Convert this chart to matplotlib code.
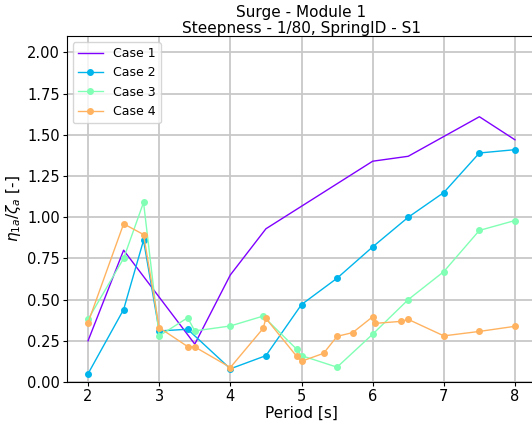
import numpy as np
import matplotlib
matplotlib.use("Agg")
import matplotlib.pyplot as plt

# Case 1: period and response (line only)
case1_period = [2.0, 2.5, 3.5, 4.0, 4.5, 6.0, 6.5, 7.5, 8.0]
case1_rao = [0.25, 0.80, 0.23, 0.65, 0.93, 1.34, 1.37, 1.61, 1.47]

# Case 2
case2_period = [2.0, 2.5, 2.78, 3.0, 3.4, 4.0, 4.5, 5.0, 5.5, 6.0, 6.5, 7.0, 7.5, 8.0]
case2_rao = [0.05, 0.44, 0.86, 0.31, 0.32, 0.08, 0.16, 0.47, 0.63, 0.82, 1.00, 1.15, 1.39, 1.41]

# Case 3
case3_period = [2.0, 2.5, 2.78, 3.0, 3.4, 3.5, 4.0, 4.46, 4.93, 5.0, 5.5, 6.0, 6.5, 7.0, 7.5, 8.0]
case3_rao = [0.38, 0.75, 1.09, 0.28, 0.39, 0.31, 0.34, 0.40, 0.20, 0.16, 0.09, 0.29, 0.50, 0.67, 0.92, 0.98]

# Case 4
case4_period = [2.0, 2.5, 2.78, 3.0, 3.4, 3.5, 4.0, 4.46, 4.5, 4.93, 5.0, 5.31, 5.5, 5.72,
                6.0, 6.04, 6.4, 6.5, 7.0, 7.5, 8.0]
case4_rao = [0.36, 0.96, 0.895, 0.33, 0.215, 0.213, 0.088, 0.325, 0.386, 0.157, 0.126, 0.174,
             0.277, 0.30, 0.396, 0.356, 0.368, 0.38, 0.28, 0.307, 0.338]

labels = ["Case 1", "Case 2", "Case 3", "Case 4"]
x_ticks = [2, 3, 4, 5, 6, 7, 8]
y_ticks = [0.0, 0.25, 0.5, 0.75, 1.0, 1.25, 1.5, 1.75, 2.0]

colors = plt.cm.rainbow(np.linspace(0, 1, 5))

fig = plt.figure(figsize=(5.32, 4.30), dpi=100)
ax = fig.add_axes([66.7 / 532, 48 / 430, (536.3 - 66.7) / 532, (382 - 36) / 430])

ax.plot(case1_period, case1_rao, color=colors[0], lw=1.0, label=labels[0])
ax.plot(case2_period, case2_rao, color=colors[1], lw=1.0, marker="o", ms=4, label=labels[1])
ax.plot(case3_period, case3_rao, color=colors[2], lw=1.0, marker="o", ms=4, label=labels[2])
ax.plot(case4_period, case4_rao, color=colors[3], lw=1.0, marker="o", ms=4, label=labels[3])

ax.set_xlim(1.7, 8.3)
ax.set_ylim(0, 2.1)
ax.set_xticks(x_ticks)
ax.set_yticks(y_ticks)
ax.tick_params(labelsize=10.5, length=3, pad=2)
ax.grid(True, color="#c8c8c8", lw=1.3)
ax.set_axisbelow(True)

ax.set_xlabel("Period [s]", fontsize=11, labelpad=1)
ax.set_ylabel(r"$\eta_{1a}/\zeta_a$ [-]", fontsize=11, labelpad=3)
ax.set_title("Surge - Module 1\nSteepness - 1/80, SpringID - S1", fontsize=11,
             pad=2, linespacing=1.1)
ax.legend(loc="upper left", fontsize=9)

fig.savefig("out.png", dpi=100)
